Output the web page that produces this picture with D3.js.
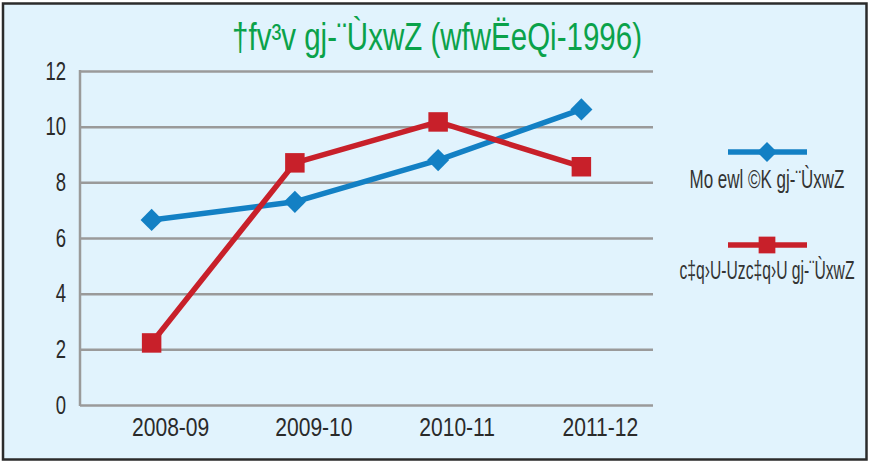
<!DOCTYPE html>
<html><head><meta charset="utf-8">
<script src="https://cdn.jsdelivr.net/npm/d3@7"></script>
<style>
html,body{margin:0;padding:0;background:#fff;}
svg{display:block;}
text{font-family:"Liberation Sans Narrow","Arial Narrow","Liberation Sans",sans-serif;}
</style></head>
<body>
<script>
const categories = ["2008-09", "2009-10", "2010-11", "2011-12"];
const seriesNames = ["Mo ewl ©K gj-¨ÙxwZ", "c‡q›U-Uzc‡q›U gj-¨ÙxwZ"];
const averageValues = [6.65, 7.30, 8.80, 10.62];
const pointValues = [2.23, 8.70, 10.17, 8.56];
const yTicks = [0, 2, 4, 6, 8, 10, 12];
const titleText = "†fv³v gj-¨ÙxwZ (wfwËeQi-1996)";

const W = 869, H = 462;
const colors = ["#1380c4", "#c8202a"];
const svg = d3.select("body").append("svg").attr("width", W).attr("height", H);

svg.append("rect").attr("x", 3).attr("y", 3.5).attr("width", 863.5).attr("height", 456)
  .attr("fill", "#e1f3fd").attr("stroke", "#2b2b2b").attr("stroke-width", 2.5);

const m = {left: 80, right: 653, top: 71, bottom: 405};
const x = d3.scaleBand().domain(categories).range([m.left, m.right]).padding(0);
const y = d3.scaleLinear().domain([0, 12]).range([m.bottom, m.top]);

// fit a text horizontally to a target width by scaling it around its anchor
function fitWidth(sel, target, ax, ay) {
  sel.each(function () {
    const t = d3.select(this);
    const w = this.getComputedTextLength();
    const s = Math.min(1, target / w);
    t.attr("x", 0).attr("y", 0).attr("transform", `translate(${ax},${ay}) scale(${s},1)`);
  });
}

// gridlines
const yAxis = d3.axisLeft(y).tickValues(yTicks).tickSize(-(m.right - m.left)).tickPadding(14).tickFormat(d3.format("d"));
const gy = svg.append("g").attr("transform", `translate(${m.left},0)`).call(yAxis);
gy.select(".domain").remove();
gy.selectAll(".tick line").attr("stroke", "#9a9a9a").attr("stroke-width", 2.5);
gy.selectAll(".tick text").attr("font-size", 25).attr("fill", "#2a2a2a")
  .attr("font-family", "'Liberation Sans Narrow','Arial Narrow','Liberation Sans',sans-serif")
  .attr("x", 0).attr("transform", "translate(-14,0) scale(0.74,1)");
svg.append("line").attr("x1", m.left).attr("x2", m.left).attr("y1", m.top - 1).attr("y2", m.bottom + 1)
  .attr("stroke", "#9a9a9a").attr("stroke-width", 2.5);

const xAxis = d3.axisBottom(x).tickSize(0).tickPadding(13);
const gx = svg.append("g").attr("transform", `translate(0,${m.bottom})`).call(xAxis);
gx.select(".domain").remove();
gx.selectAll(".tick text").attr("font-size", 26).attr("fill", "#2a2a2a")
  .attr("font-family", "'Liberation Sans Narrow','Arial Narrow','Liberation Sans',sans-serif")
  .attr("transform", "translate(19,0) scale(0.81,1)");

const cx = c => x(c) + x.bandwidth() / 2;
const line = d3.line().x((d, i) => cx(categories[i])).y(d => y(d));

const chartDiamond = d3.symbol().type(d3.symbolSquare).size(245);
const legendDiamond = d3.symbol().type(d3.symbolSquare).size(200);
const chartSquare = d3.symbol().type(d3.symbolSquare).size(380);
const legendSquare = d3.symbol().type(d3.symbolSquare).size(280);

[averageValues, pointValues].forEach((vals, si) => {
  svg.append("path").datum(vals).attr("d", line).attr("fill", "none")
    .attr("stroke", colors[si]).attr("stroke-width", 5.5).attr("stroke-linejoin", "round");
});
svg.selectAll(".m0").data(averageValues).enter().append("path")
  .attr("d", chartDiamond)
  .attr("transform", (d, i) => `translate(${cx(categories[i])},${y(d)}) rotate(45)`)
  .attr("fill", colors[0]);
svg.selectAll(".m1").data(pointValues).enter().append("path")
  .attr("d", chartSquare)
  .attr("transform", (d, i) => `translate(${cx(categories[i])},${y(d)})`)
  .attr("fill", colors[1]);

// title
svg.append("text").attr("text-anchor", "middle")
  .attr("font-size", 38).attr("fill", "#0aa24a")
  .text(titleText)
  .call(fitWidth, 410, 437, 50);

// legend
const legY = [152, 245], legText = [188, 279], legW = [155, 175];
seriesNames.forEach((n, i) => {
  const g = svg.append("g");
  g.append("line").attr("x1", 728).attr("x2", 807).attr("y1", legY[i]).attr("y2", legY[i])
    .attr("stroke", colors[i]).attr("stroke-width", 5.5);
  g.append("path").attr("d", i === 0 ? legendDiamond() : legendSquare())
    .attr("transform", `translate(767,${legY[i]})` + (i === 0 ? " rotate(45)" : ""))
    .attr("fill", colors[i]);
  g.append("text").attr("text-anchor", "middle")
    .attr("font-size", 25).attr("fill", "#333")
    .text(n)
    .call(fitWidth, legW[i], 767, legText[i]);
});
</script>
</body></html>
